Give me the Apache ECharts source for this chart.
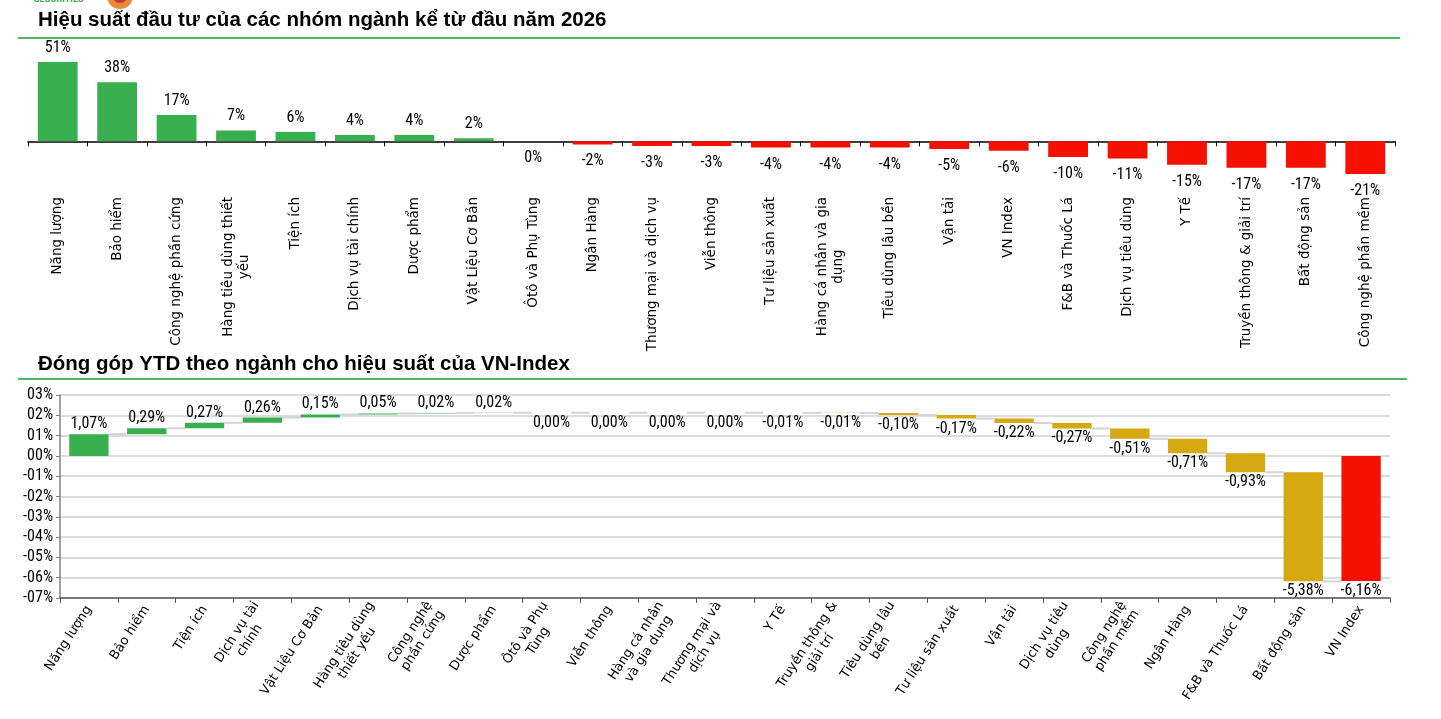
<!DOCTYPE html>
<html><head><meta charset="utf-8">
<script src="https://cdn.jsdelivr.net/npm/echarts@6/dist/echarts.min.js"></script>
<style>html,body{margin:0;padding:0;background:#fff}#c{width:1441px;height:719px}</style>
</head><body><div id="c"></div>
<script>
// ---- Chart 1: YTD performance by sector (%) ----
const perfCategories = ['Năng lượng','Bảo hiểm','Công nghệ phần cứng','Hàng tiêu dùng thiết\nyếu','Tiện ích','Dịch vụ tài chính','Dược phẩm','Vật Liệu Cơ Bản','Ôtô và Phụ Tùng','Ngân Hàng','Thương mại và dịch vụ','Viễn thông','Tư liệu sản xuất','Hàng cá nhân và gia\ndụng','Tiêu dùng lâu bền','Vận tải','VN Index','F&B và Thuốc Lá','Dịch vụ tiêu dùng','Y Tế','Truyền thông & giải trí','Bất động sản','Công nghệ phần mềm'];
const perfValues = [51, 38, 17, 7, 6, 4, 4, 2, 0, -2, -3, -3, -4, -4, -4, -5, -6, -10, -11, -15, -17, -17, -21];

// ---- Chart 2: YTD contribution to VN-Index (%) ----
const contribCategories = ['Năng lượng','Bảo hiểm','Tiện ích','Dịch vụ tài\nchính','Vật Liệu Cơ Bản','Hàng tiêu dùng\nthiết yếu','Công nghệ\nphần cứng','Dược phẩm','Ôtô và Phụ\nTùng','Viễn thông','Hàng cá nhân\nvà gia dụng','Thương mại và\ndịch vụ','Y Tế','Truyền thông &\ngiải trí','Tiêu dùng lâu\nbền','Tư liệu sản xuất','Vận tải','Dịch vụ tiêu\ndùng','Công nghệ\nphần mềm','Ngân Hàng','F&B và Thuốc Lá','Bất động sản','VN Index'];
const contribValues = [1.07, 0.29, 0.27, 0.26, 0.15, 0.05, 0.02, 0.02, 0.00, 0.00, 0.00, 0.00, -0.01, -0.01, -0.10, -0.17, -0.22, -0.27, -0.51, -0.71, -0.93, -5.38, -6.16];
const contribAxisMin = -7, contribAxisMax = 3, contribAxisStep = 1;

const GREEN = '#39AE4F', RED = '#F51000', GOLD = '#D6A912', TOTAL_RED = '#F51000';
const NARROW = '"Liberation Sans Narrow", "Roboto Condensed", Roboto, sans-serif';
const CAT_FONT = '"DejaVu Sans", Verdana, sans-serif';
const VAL_SIZE = 16;

// waterfall rows built from contribValues
let cum = 0;
const wfData = contribValues.map((v, i) => {
  const isTotal = i === contribValues.length - 1;
  let s, e;
  if (isTotal) { s = 0; e = v; } else { s = cum; e = cum + v; cum = e; }
  return [i, s, e, v, isTotal ? 1 : 0];
});
const N = wfData.length;

function renderWF(params, api) {
  const i = api.value(0), s = api.value(1), e = api.value(2), v = api.value(3), tot = api.value(4);
  const band = api.size([1, 0])[0];
  const bw = band * 0.68;
  const p1 = api.coord([i, s]), p2 = api.coord([i, e]);
  const x = p1[0] - bw / 2;
  const yTop = Math.min(p1[1], p2[1]), yBot = Math.max(p1[1], p2[1]);
  const color = tot ? TOTAL_RED : (v > 0 ? GREEN : GOLD);
  const children = [];
  if (i < N - 1) {
    children.push({ type: 'line', shape: { x1: x + bw, y1: p2[1], x2: x + band, y2: p2[1] }, style: { stroke: '#d4d4d4', lineWidth: 2 } });
  }
  if (yBot - yTop > 0.05) {
    children.push({ type: 'rect', shape: { x: x, y: yTop, width: bw, height: yBot - yTop }, style: { fill: color } });
  }
  const up = v > 0;
  children.push({ type: 'text', style: { text: v.toFixed(2).replace('.', ',') + '%', x: p1[0], y: up ? yTop - 2 : yBot + 2, align: 'center', verticalAlign: up ? 'bottom' : 'top', fill: '#000', fontSize: VAL_SIZE, fontFamily: NARROW } });
  return { type: 'group', children };
}

const centerLines = s => s.split('\n').map(t => '{c|' + t + '}').join('\n');

const chart = echarts.init(document.getElementById('c'), null, { renderer: 'canvas' });
chart.setOption({
  animation: false,
  backgroundColor: '#fff',
  title: [
    { text: 'Hiệu suất đầu tư của các nhóm ngành kể từ đầu năm 2026', left: 33, top: 5, textStyle: { fontFamily: '"Liberation Sans", Arial, sans-serif', fontWeight: 'bold', fontSize: 20.5, color: '#000' } },
    { text: 'Đóng góp YTD theo ngành cho hiệu suất của VN-Index', left: 33, top: 349, textStyle: { fontFamily: '"Liberation Sans", Arial, sans-serif', fontWeight: 'bold', fontSize: 20.5, color: '#000' } }
  ],
  graphic: [
    { type: 'line', shape: { x1: 18, y1: 38, x2: 1400, y2: 38 }, style: { stroke: '#4DB966', lineWidth: 2 } },
    { type: 'line', shape: { x1: 18, y1: 379, x2: 1407, y2: 379 }, style: { stroke: '#4DB966', lineWidth: 2 } },
    { type: 'text', left: 34, top: -5, style: { text: 'SECURITIES', fill: '#3AAE4F', fontSize: 9, fontWeight: 'bold', fontFamily: 'Roboto, sans-serif' } },
    { type: 'circle', shape: { cx: 120, cy: -4, r: 13 }, style: { fill: '#E8893A' } },
    { type: 'circle', shape: { cx: 120, cy: -5, r: 8 }, style: { fill: '#C8362A' } }
  ],
  grid: [
    { left: 28, right: 46, top: 62, height: 112 },
    { left: 60, right: 51, top: 395, height: 203 }
  ],
  xAxis: [
    { gridIndex: 0, type: 'category', data: perfCategories,
      axisLine: { onZero: true, lineStyle: { color: '#000', width: 1.5 } },
      axisTick: { show: true, length: 5, lineStyle: { color: '#000' } },
      axisLabel: { interval: 0, rotate: 90, margin: 23, formatter: centerLines,
        rich: { c: { align: 'center', fontSize: 13.5, fontFamily: CAT_FONT, color: '#000', lineHeight: 16 } } } },
    { gridIndex: 1, type: 'category', data: contribCategories,
      axisLine: { onZero: false, lineStyle: { color: '#595959', width: 1.5 } },
      axisTick: { show: true, length: 5, lineStyle: { color: '#595959' } },
      axisLabel: { interval: 0, rotate: 57, margin: 9, formatter: centerLines,
        rich: { c: { align: 'center', fontSize: 13, fontFamily: CAT_FONT, color: '#000', lineHeight: 15 } } } }
  ],
  yAxis: [
    { gridIndex: 0, type: 'value', show: false, min: v => v.min, max: v => v.max, splitLine: { show: false } },
    { gridIndex: 1, type: 'value', min: contribAxisMin, max: contribAxisMax, interval: contribAxisStep,
      axisLine: { show: true, lineStyle: { color: '#808080', width: 1.5 } },
      axisTick: { show: true, length: 4, lineStyle: { color: '#808080' } },
      splitLine: { show: true, lineStyle: { color: '#dcdcdc', width: 2 } },
      axisLabel: { margin: 7, fontSize: VAL_SIZE, fontFamily: NARROW, color: '#000',
        formatter: v => (v < 0 ? '-' : '') + String(Math.abs(v)).padStart(2, '0') + '%' } }
  ],
  series: [
    { type: 'bar', xAxisIndex: 0, yAxisIndex: 0, barWidth: '67%',
      data: perfValues.map(v => ({ value: v, itemStyle: { color: v >= 0 ? GREEN : RED },
        label: { show: true, position: v > 0 ? 'top' : 'bottom', distance: v > 0 ? 6 : 9 } })),
      label: { show: true, formatter: p => Math.round(p.value) + '%', fontSize: VAL_SIZE, fontFamily: NARROW, color: '#000' } },
    { type: 'custom', xAxisIndex: 1, yAxisIndex: 1, renderItem: renderWF, data: wfData, encode: { x: 0, y: [1, 2] }, clip: false }
  ]
});
</script></body></html>
